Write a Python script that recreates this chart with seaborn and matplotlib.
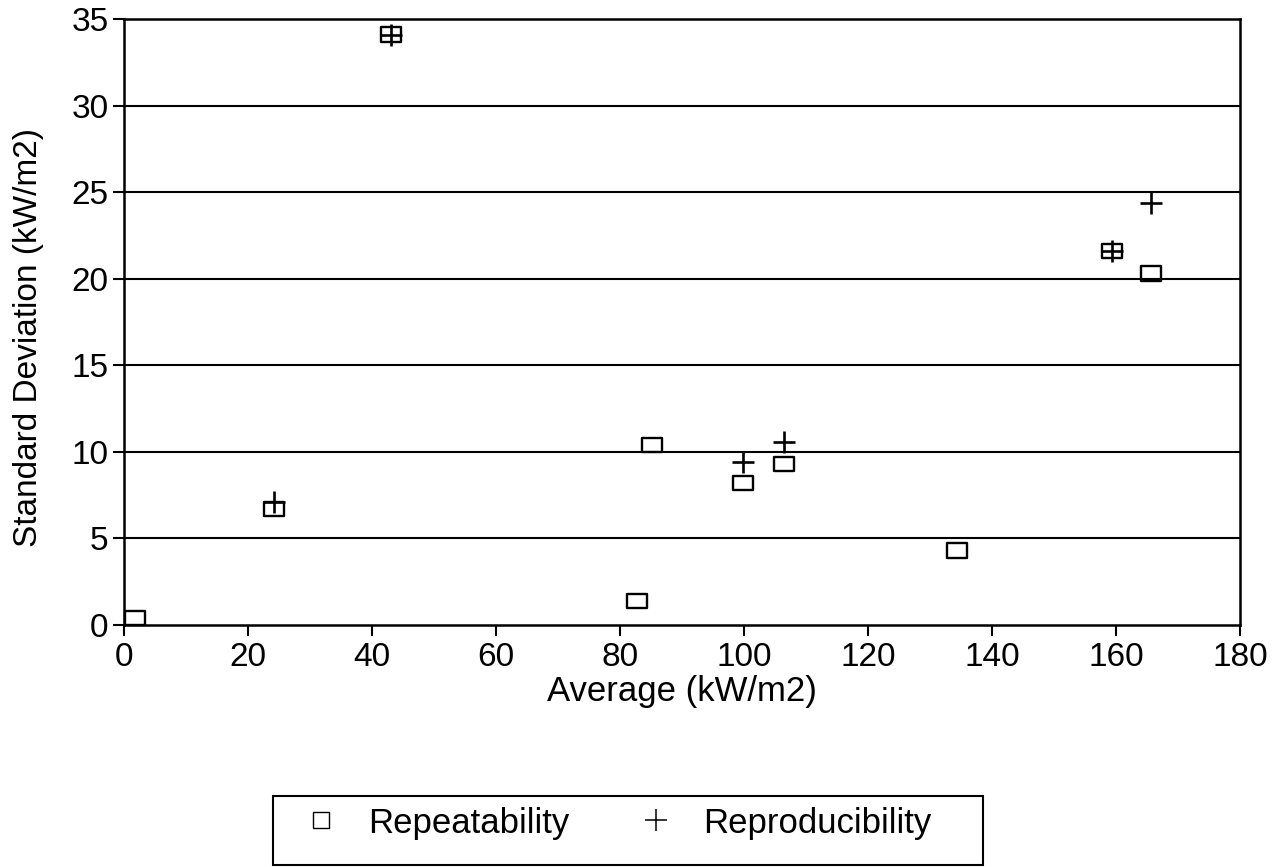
import numpy as np
import pandas as pd
import seaborn as sns
import matplotlib.pyplot as plt
from matplotlib.path import Path
from matplotlib.lines import Line2D
from matplotlib.patches import Rectangle

# values
rep_x = [1.8, 24.2, 43.0, 82.8, 85.2, 99.9, 106.4, 134.4, 159.4, 165.6]
rep_y = [0.4, 6.7, 34.1, 1.4, 10.4, 8.2, 9.3, 4.3, 21.6, 20.3]
repro_x = [24.2, 43.0, 99.9, 106.4, 159.4, 165.7]
repro_y = [7.1, 34.1, 9.4, 10.55, 21.6, 24.4]

x_ticks = [0, 20, 40, 60, 80, 100, 120, 140, 160, 180]
y_ticks = [0, 5, 10, 15, 20, 25, 30, 35]

rep_df = pd.DataFrame({"avg": rep_x, "sd": rep_y})
repro_df = pd.DataFrame({"avg": repro_x, "sd": repro_y})

sns.set_style("white")
plt.rcParams['font.family'] = ['Liberation Sans', 'DejaVu Sans']
plt.rcParams['text.color'] = 'black'
plt.rcParams['axes.labelcolor'] = 'black'
plt.rcParams['xtick.color'] = 'black'
plt.rcParams['ytick.color'] = 'black'

W, H = 1283, 867

# wide rectangle marker like the scanned squares
rect = Path([(-1, -0.72), (1, -0.72), (1, 0.72), (-1, 0.72), (-1, -0.72)],
            [Path.MOVETO, Path.LINETO, Path.LINETO, Path.LINETO, Path.CLOSEPOLY])

fig = plt.figure(figsize=(W / 100, H / 100), dpi=100)
ax = fig.add_axes([124 / W, 1 - 625 / H, (1240 - 124) / W, (625 - 19) / H])

sns.scatterplot(data=rep_df, x="avg", y="sd", ax=ax, marker=rect, s=205,
                facecolor="none", edgecolor="black", linewidth=1.7,
                clip_on=False, zorder=3)
sns.scatterplot(data=repro_df, x="avg", y="sd", ax=ax, marker="+", s=230,
                color="black", linewidth=1.9, clip_on=False, zorder=4)

ax.set_xlim(0, 180)
ax.set_ylim(0, 35)
ax.set_xticks(x_ticks)
ax.set_yticks(y_ticks)
for v in y_ticks[1:-1]:
    ax.axhline(v, color="black", linewidth=1.5, zorder=1)

for sp in ax.spines.values():
    sp.set_color("black")
    sp.set_linewidth(1.8)

ax.tick_params(axis="both", direction="out", length=8, width=1.5,
               color="black", labelcolor="black", labelsize=24,
               bottom=True, left=True)
ax.tick_params(axis="x", pad=4)
ax.tick_params(axis="y", pad=3)
ax.set_xlabel("Average (kW/m2)", fontsize=25, labelpad=2)
ax.set_ylabel("Standard Deviation (kW/m2)", fontsize=24)
ax.yaxis.set_label_coords(-0.0715, 0.475)

# legend entries, box drawn separately like the original
handles = [
    Line2D([], [], marker="s", linestyle="none", markersize=12,
           markerfacecolor="none", markeredgecolor="black", markeredgewidth=1.0),
    Line2D([], [], marker="+", linestyle="none", markersize=16,
           color="black", markeredgewidth=1.1),
]
leg = fig.legend(handles, ["Repeatability", "Reproducibility"], ncol=2,
                 loc="center left", bbox_to_anchor=(304 / W, 1 - 823 / H),
                 fontsize=25, frameon=False, borderpad=0, borderaxespad=0,
                 handlelength=1.0, handletextpad=0.85, columnspacing=2.0)
fig.patches.append(Rectangle((273 / W, 2 / H), 710 / W, 69 / H,
                             transform=fig.transFigure, fill=False,
                             edgecolor="black", linewidth=1.5))

fig.savefig("out.png", dpi=100)
